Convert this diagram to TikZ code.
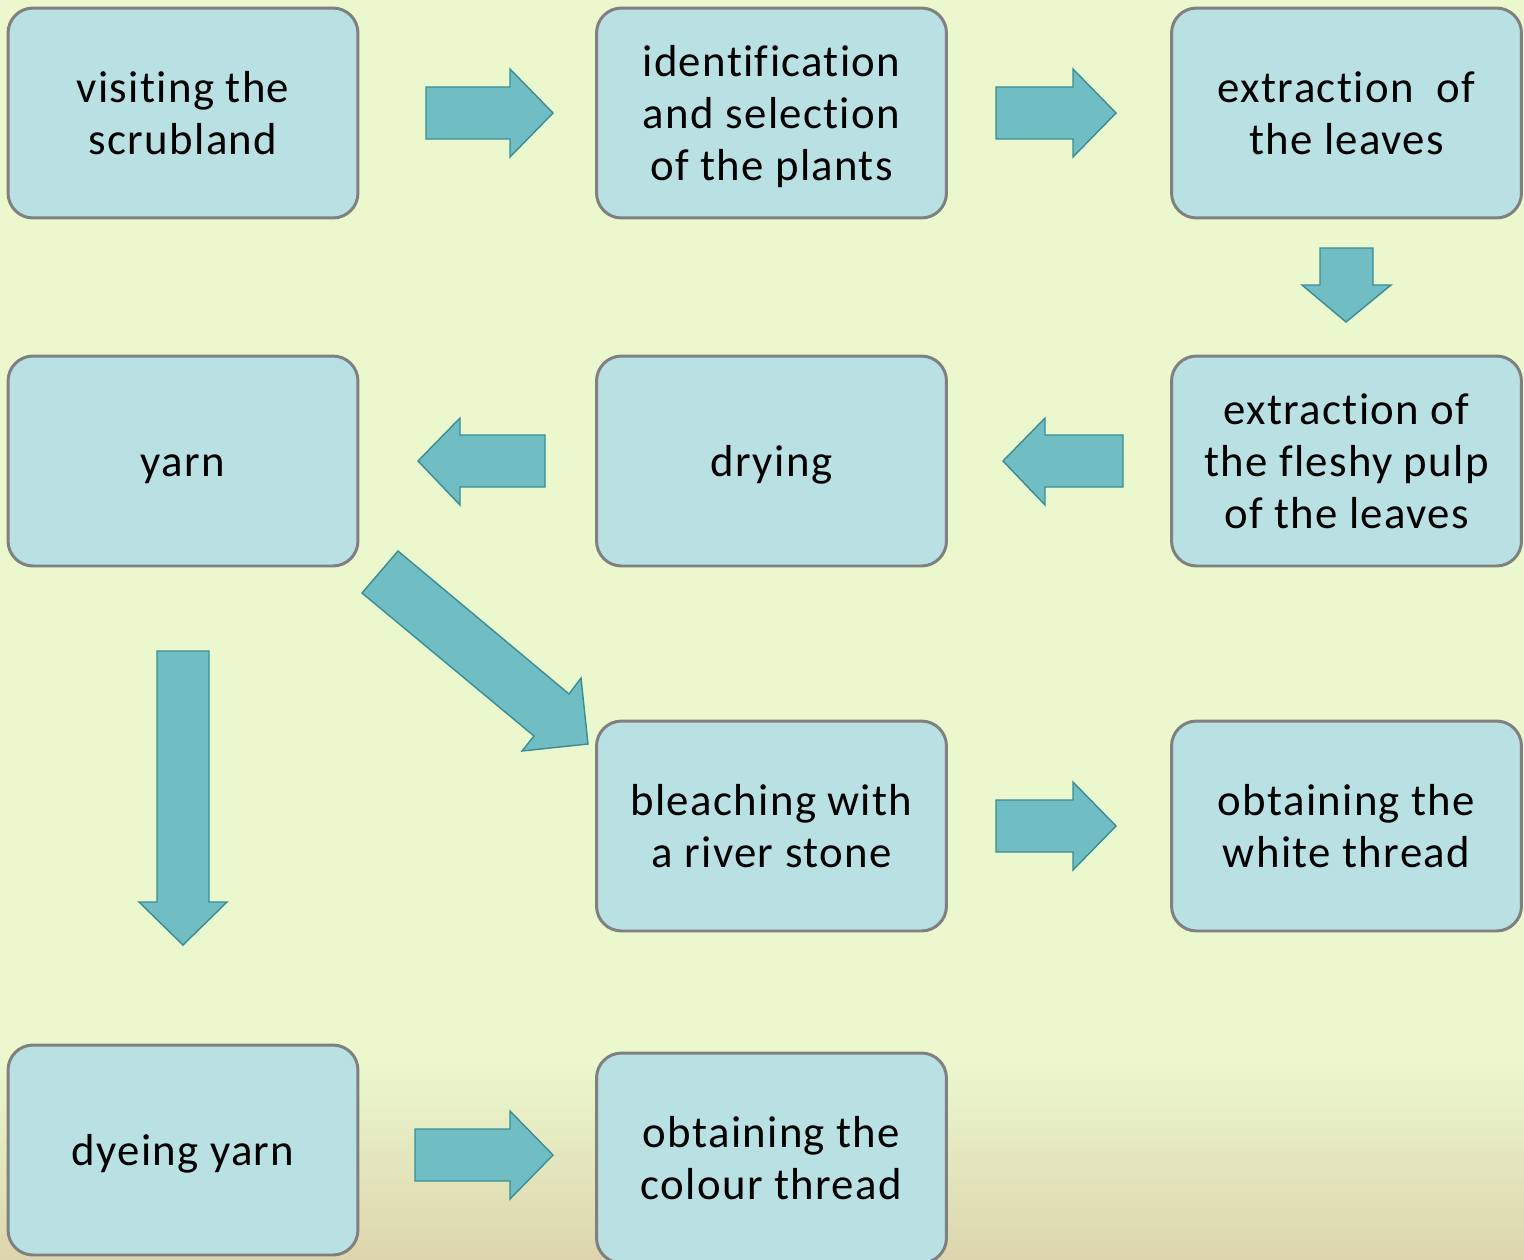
\documentclass[tikz,border=0pt]{standalone}
\usepackage{fontspec}
\setmainfont[Ligatures=NoCommon, LetterSpace=3]{Carlito}
\definecolor{bgtop}{HTML}{EBF8CE}
\definecolor{bgbot}{HTML}{DDD5AD}
\definecolor{boxfill}{HTML}{B9E0E3}
\definecolor{boxline}{HTML}{808080}
\definecolor{arrfill}{HTML}{71BDC4}
\definecolor{arrline}{HTML}{3A8D95}
\newcommand{\boxlines}[1]{\raisebox{-2.8pt}[\height][\depth]{\begin{tabular}{@{}c@{}}#1\end{tabular}}}
\begin{document}
\begin{tikzpicture}[x=0.02cm,y=-0.02cm,
  stepbox/.style={draw=boxline, line width=1.7pt, fill=boxfill, rounded corners=0.5cm,
    minimum width=7cm, minimum height=4.2cm, inner sep=0pt,
    font=\fontsize{25.5}{29.5}\selectfont},
  blockarrow/.style={fill=arrfill, draw=arrline, line width=0.8pt, line join=miter}]
\useasboundingbox (0,0) rectangle (1524,1259);
\fill[bgtop] (0,0) rectangle (1524,1060);
\shade[top color=bgtop, bottom color=bgbot] (0,1059) rectangle (1524,1259);
\begin{scope}
\clip (0,0) rectangle (1524,1259);
\node[stepbox] (visit) at (183,113) {\boxlines{visiting the\\scrubland}};
\node[stepbox] (ident) at (771.5,113) {\boxlines{identification\\and selection\\of the plants}};
\node[stepbox] (leaves) at (1346.5,113) {\boxlines{extraction~ of\\the leaves}};
\node[stepbox] (yarn) at (183,461) {\boxlines{yarn}};
\node[stepbox] (drying) at (771.5,461) {\boxlines{drying}};
\node[stepbox] (pulp) at (1346.5,461) {\boxlines{extraction of\\the fleshy pulp\\of the leaves}};
\node[stepbox] (bleach) at (771.5,826) {\boxlines{bleaching with\\a river stone}};
\node[stepbox] (white) at (1346.5,826) {\boxlines{obtaining the\\white thread}};
\node[stepbox] (dye) at (183,1150) {\boxlines{dyeing yarn}};
\node[stepbox] (colour) at (771.5,1158) {\boxlines{obtaining the\\colour thread}};
\end{scope}
% right arrows
\draw[blockarrow] (426,87) -- (510,87) -- (510,69) -- (553,113) -- (510,157) -- (510,139) -- (426,139) -- cycle;
\draw[blockarrow] (996,87) -- (1073,87) -- (1073,69) -- (1116,113) -- (1073,157) -- (1073,139) -- (996,139) -- cycle;
\draw[blockarrow] (996,800) -- (1073,800) -- (1073,782) -- (1116,826) -- (1073,870) -- (1073,852) -- (996,852) -- cycle;
\draw[blockarrow] (415,1129) -- (510,1129) -- (510,1111) -- (553,1155) -- (510,1199) -- (510,1181) -- (415,1181) -- cycle;
% down arrows
\draw[blockarrow] (1320,248) -- (1373,248) -- (1373,285) -- (1391,285) -- (1346,322) -- (1302,285) -- (1320,285) -- cycle;
\draw[blockarrow] (157,651) -- (209,651) -- (209,902) -- (227,902) -- (183,945) -- (139,902) -- (157,902) -- cycle;
% left arrows
\draw[blockarrow] (545,435) -- (460,435) -- (460,418) -- (418,461) -- (460,505) -- (460,487) -- (545,487) -- cycle;
\draw[blockarrow] (1123,435) -- (1045,435) -- (1045,418) -- (1003,461) -- (1045,505) -- (1045,487) -- (1123,487) -- cycle;
% diagonal arrow
\draw[blockarrow] (398,551) -- (569,694) -- (581,678) -- (588,744) -- (522,751) -- (534,736) -- (362,593) -- cycle;
\end{tikzpicture}
\end{document}
